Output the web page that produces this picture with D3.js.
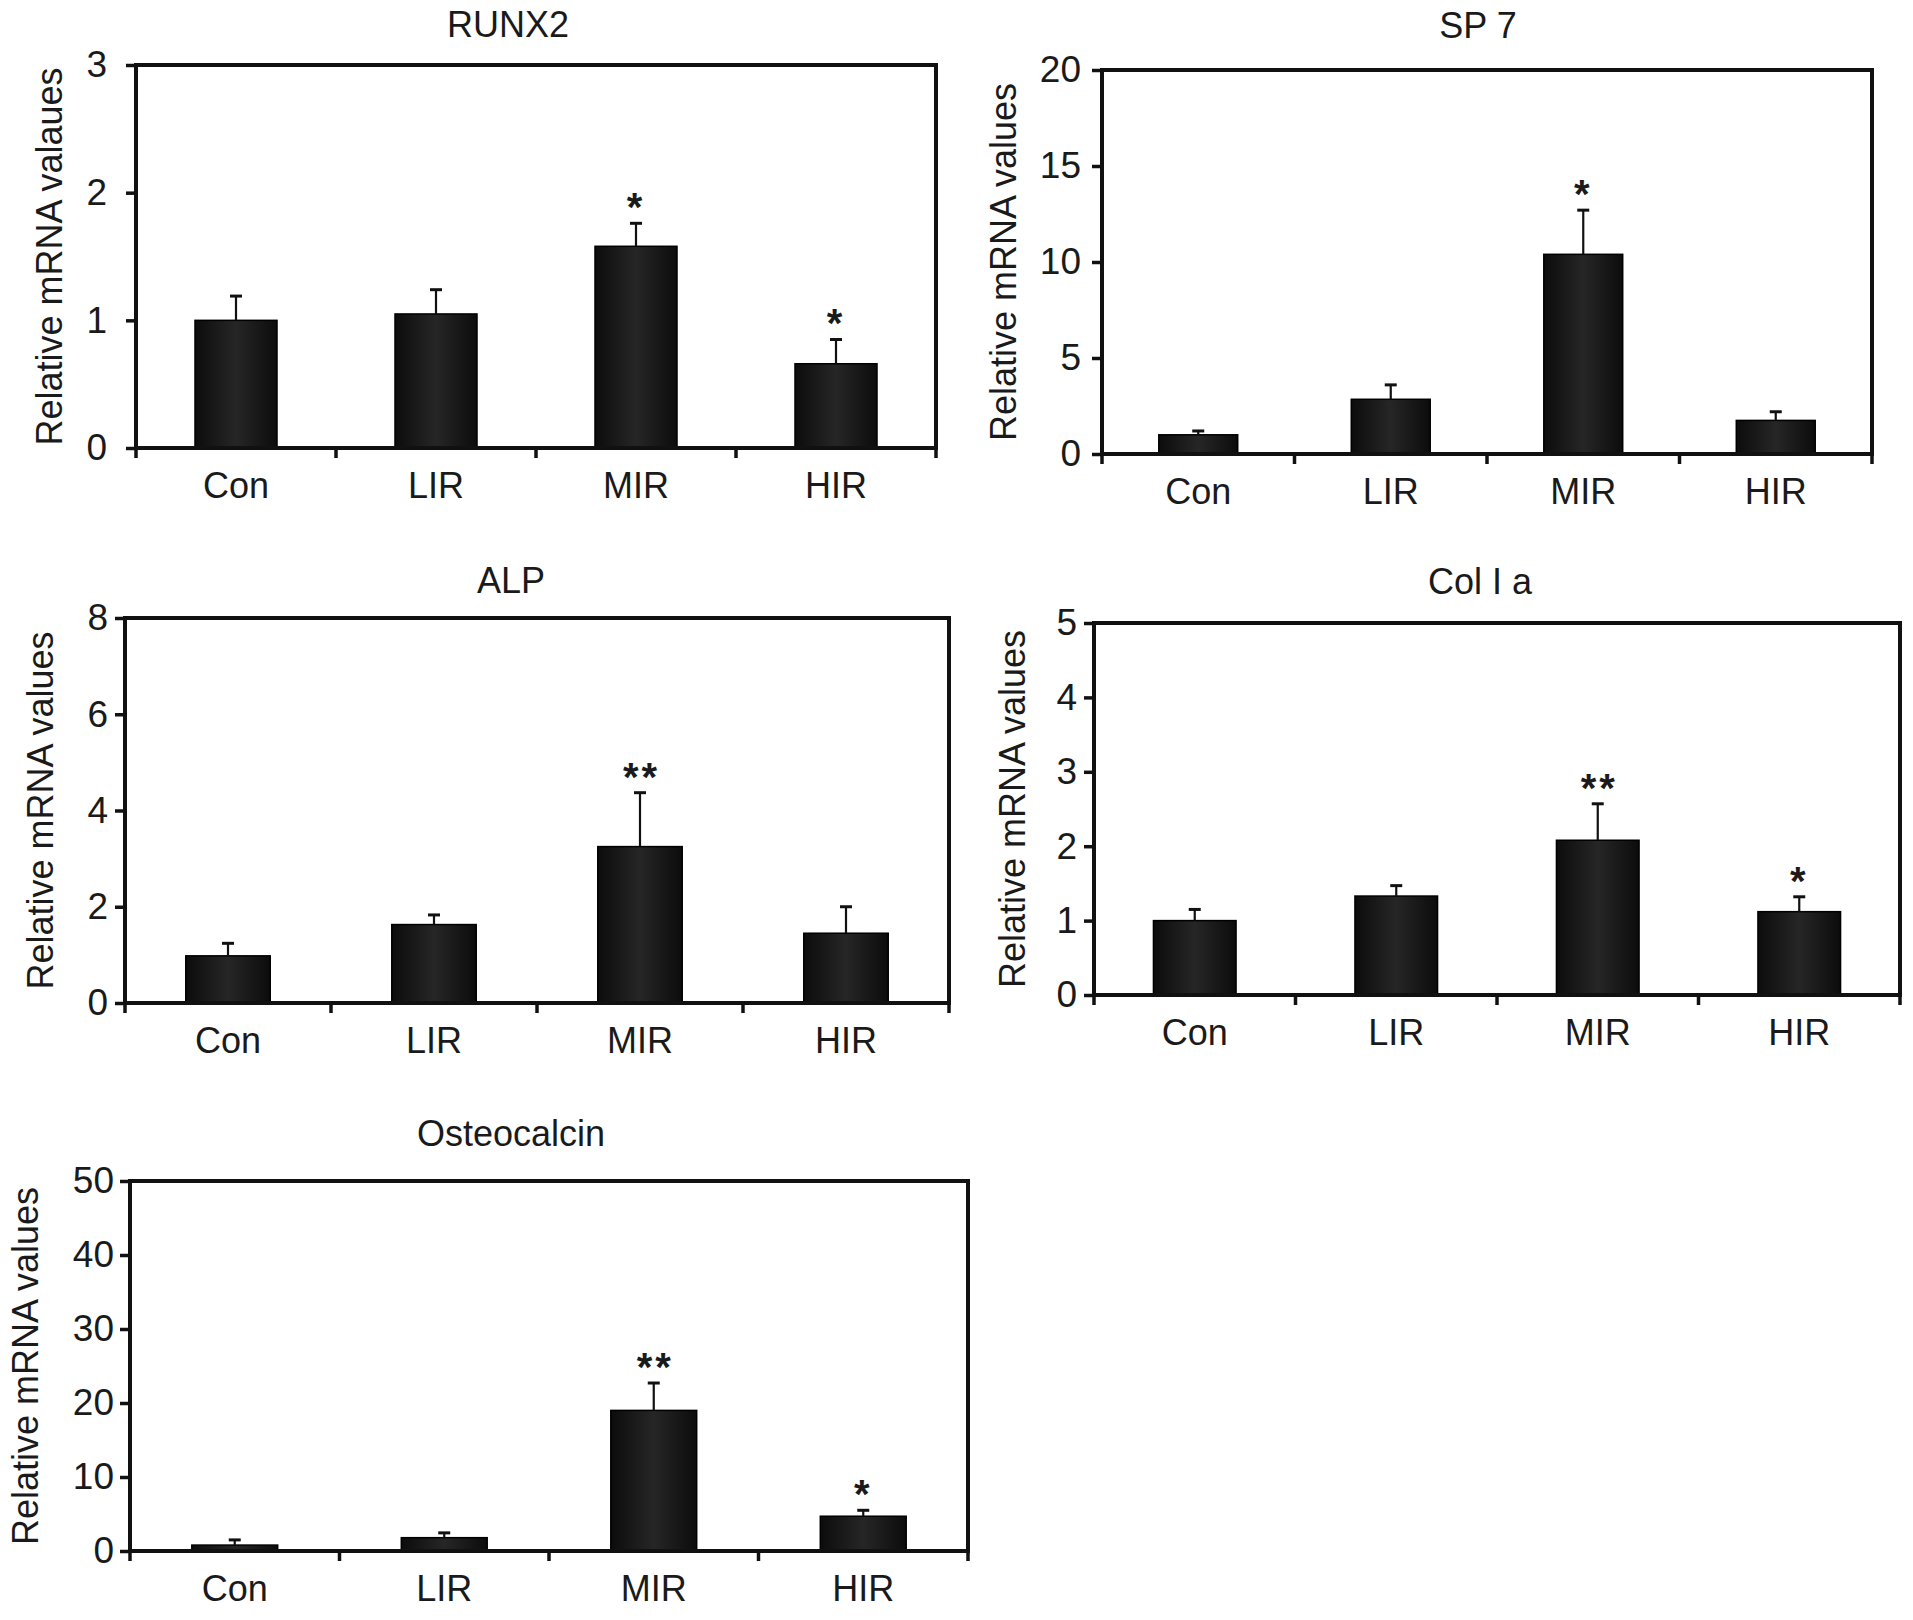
<!DOCTYPE html>
<html>
<head>
<meta charset="utf-8">
<script src="https://cdn.jsdelivr.net/npm/d3@7/dist/d3.min.js"></script>
<style>
  html, body { margin: 0; padding: 0; background: #ffffff; }
  svg { display: block; }
  text { font-family: "Liberation Sans", Arial, Helvetica, sans-serif; fill: #1a1a1a; }
</style>
</head>
<body>
<svg id="chart" width="1913" height="1620"></svg>
<script>
// ---------------- data ----------------
const categories = ["Con", "LIR", "MIR", "HIR"];

const titles = ["RUNX2", "SP 7", "ALP", "Col I a", "Osteocalcin"];
const yLabels = [
  "Relative mRNA valaues",
  "Relative mRNA values",
  "Relative mRNA values",
  "Relative mRNA values",
  "Relative mRNA values"
];

const runx2Mean = [1.00, 1.05, 1.58, 0.66];
const runx2Sd   = [0.19, 0.19, 0.18, 0.19];
const runx2Sig  = ["", "", "*", "*"];
const runx2Ticks = [0, 1, 2, 3];

const sp7Mean = [1.00, 2.85, 10.4, 1.75];
const sp7Sd   = [0.20, 0.75, 2.30, 0.45];
const sp7Sig  = ["", "", "*", ""];
const sp7Ticks = [0, 5, 10, 15, 20];

const alpMean = [0.98, 1.63, 3.25, 1.45];
const alpSd   = [0.26, 0.20, 1.12, 0.55];
const alpSig  = ["", "", "**", ""];
const alpTicks = [0, 2, 4, 6, 8];

const colMean = [1.00, 1.33, 2.08, 1.12];
const colSd   = [0.15, 0.14, 0.49, 0.20];
const colSig  = ["", "", "**", "*"];
const colTicks = [0, 1, 2, 3, 4, 5];

const ocnMean = [0.8, 1.8, 19.0, 4.7];
const ocnSd   = [0.7, 0.65, 3.7, 0.8];
const ocnSig  = ["", "", "**", "*"];
const ocnTicks = [0, 10, 20, 30, 40, 50];

const panelData = [
  { mean: runx2Mean, sd: runx2Sd, sig: runx2Sig, ticks: runx2Ticks },
  { mean: sp7Mean,   sd: sp7Sd,   sig: sp7Sig,   ticks: sp7Ticks },
  { mean: alpMean,   sd: alpSd,   sig: alpSig,   ticks: alpTicks },
  { mean: colMean,   sd: colSd,   sig: colSig,   ticks: colTicks },
  { mean: ocnMean,   sd: ocnSd,   sig: ocnSig,   ticks: ocnTicks }
];

// ---------------- layout ----------------
const layout = [
  { L: 136,  R: 936,  T: 65,   B: 448,  pad: 19, titleX: 508,  titleY: 37,   labX: 49 },
  { L: 1102, R: 1872, T: 70,   B: 454,  pad: 11, titleX: 1478, titleY: 38,   labX: 1003 },
  { L: 125,  R: 949,  T: 618,  B: 1003, pad: 7,  titleX: 511,  titleY: 593,  labX: 40 },
  { L: 1094, R: 1900, T: 623,  B: 995,  pad: 7,  titleX: 1480, titleY: 594,  labX: 1012 },
  { L: 130,  R: 968,  T: 1181, B: 1551, pad: 6,  titleX: 511,  titleY: 1146, labX: 25 }
];

const svg = d3.select("#chart");
const defs = svg.append("defs");
const grad = defs.append("linearGradient").attr("id", "barGrad")
  .attr("x1", "0%").attr("x2", "100%").attr("y1", "0%").attr("y2", "0%");
grad.append("stop").attr("offset", "0%").attr("stop-color", "#0c0c0c");
grad.append("stop").attr("offset", "50%").attr("stop-color", "#262626");
grad.append("stop").attr("offset", "100%").attr("stop-color", "#0c0c0c");

const INK = "#111111";

panelData.forEach((pd, i) => {
  const lay = layout[i];
  const g = svg.append("g");

  const x = d3.scaleBand().domain(categories).range([lay.L, lay.R]).padding(0);
  const y = d3.scaleLinear().domain([0, d3.max(pd.ticks)]).range([lay.B, lay.T]);
  const bw = x.bandwidth() * 0.41;

  // bars
  g.selectAll("rect.bar").data(categories).enter().append("rect")
    .attr("class", "bar")
    .attr("x", c => x(c) + x.bandwidth() / 2 - bw / 2)
    .attr("width", bw)
    .attr("y", (c, j) => y(pd.mean[j]))
    .attr("height", (c, j) => y(0) - y(pd.mean[j]))
    .attr("fill", "url(#barGrad)")
    .attr("stroke", "#000")
    .attr("stroke-width", 1.5);

  // error bars (upper only)
  g.selectAll("line.err").data(categories).enter().append("line")
    .attr("x1", c => x(c) + x.bandwidth() / 2)
    .attr("x2", c => x(c) + x.bandwidth() / 2)
    .attr("y1", (c, j) => y(pd.mean[j]))
    .attr("y2", (c, j) => y(pd.mean[j] + pd.sd[j]))
    .attr("stroke", INK).attr("stroke-width", 2.2);
  g.selectAll("line.cap").data(categories).enter().append("line")
    .attr("x1", c => x(c) + x.bandwidth() / 2 - 6)
    .attr("x2", c => x(c) + x.bandwidth() / 2 + 6)
    .attr("y1", (c, j) => y(pd.mean[j] + pd.sd[j]))
    .attr("y2", (c, j) => y(pd.mean[j] + pd.sd[j]))
    .attr("stroke", INK).attr("stroke-width", 3);

  // significance stars
  g.selectAll("text.sig").data(categories).enter().append("text")
    .attr("x", (c, j) => x(c) + x.bandwidth() / 2 + (pd.sig[j].length > 1 ? 1.5 : 0))
    .attr("y", (c, j) => y(pd.mean[j] + pd.sd[j]) - 2)
    .attr("text-anchor", "middle")
    .attr("font-size", 40)
    .attr("font-weight", "bold")
    .attr("letter-spacing", "3px")
    .text((c, j) => pd.sig[j]);

  // frame
  g.append("rect")
    .attr("x", lay.L).attr("y", lay.T)
    .attr("width", lay.R - lay.L).attr("height", lay.B - lay.T)
    .attr("fill", "none").attr("stroke", INK).attr("stroke-width", 4);

  // y axis
  const yAxis = d3.axisLeft(y).tickValues(pd.ticks).tickSize(10).tickPadding(lay.pad)
    .tickFormat(d3.format("d"));
  const ya = g.append("g").attr("transform", `translate(${lay.L},0)`).call(yAxis);
  ya.select(".domain").remove();
  ya.selectAll(".tick line").attr("stroke", INK).attr("stroke-width", 3.5);
  ya.selectAll(".tick text").attr("font-size", 37).attr("fill", "#1a1a1a")
    .style("font-family", "'Liberation Sans', Arial, sans-serif");

  // x axis: ticks at band boundaries, labels centered
  const xAxis = d3.axisBottom(x).tickSize(0).tickPadding(38);
  const xa = g.append("g").attr("transform", `translate(0,${lay.B})`).call(xAxis);
  xa.select(".domain").remove();
  xa.selectAll(".tick text").attr("font-size", 36).attr("fill", "#1a1a1a")
    .attr("dy", "0")
    .attr("y", 50)
    .style("font-family", "'Liberation Sans', Arial, sans-serif");
  const bounds = categories.map(c => x(c)).concat([x(categories[categories.length - 1]) + x.bandwidth()]);
  g.selectAll("line.xt").data(bounds).enter().append("line")
    .attr("x1", d => d).attr("x2", d => d)
    .attr("y1", lay.B).attr("y2", lay.B + 10)
    .attr("stroke", INK).attr("stroke-width", 3.5);

  // title
  g.append("text")
    .attr("x", lay.titleX).attr("y", lay.titleY)
    .attr("text-anchor", "middle")
    .attr("font-size", 36)
    .text(titles[i]);

  // y label
  const cy = (lay.T + lay.B) / 2;
  g.append("text")
    .attr("transform", `translate(${lay.labX},${cy}) rotate(-90)`)
    .attr("text-anchor", "middle")
    .attr("dy", "0.36em")
    .attr("font-size", 36)
    .text(yLabels[i]);
});
</script>
</body>
</html>
